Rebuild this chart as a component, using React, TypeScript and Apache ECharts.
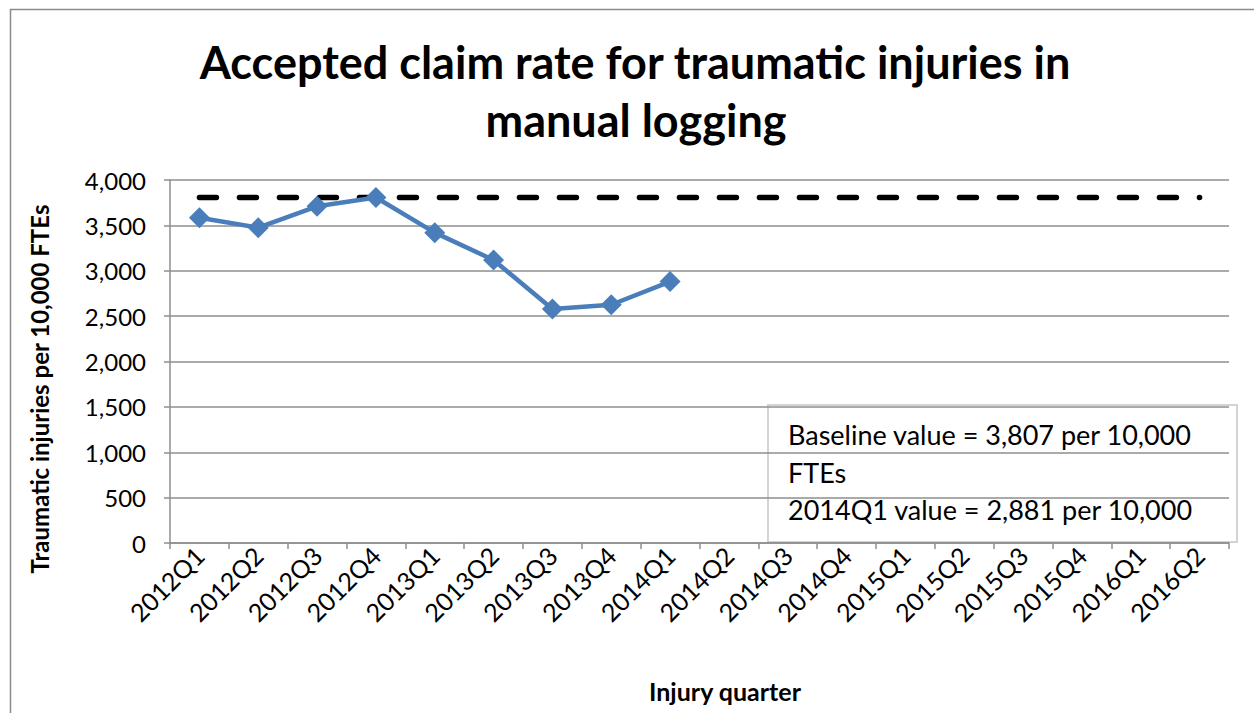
import React, { useEffect, useRef } from "react";
import * as echarts from "echarts";

const categories = [
  "2012Q1", "2012Q2", "2012Q3", "2012Q4", "2013Q1", "2013Q2", "2013Q3", "2013Q4", "2014Q1",
  "2014Q2", "2014Q3", "2014Q4", "2015Q1", "2015Q2", "2015Q3", "2015Q4", "2016Q1", "2016Q2",
];
const claimRate = [3585, 3475, 3710, 3807, 3420, 3118, 2578, 2625, 2881];
const baselineValue = 3807;
const yTicks = { min: 0, max: 4000, interval: 500 };
const titleLines = ["Accepted claim rate for traumatic injuries in", "manual logging"];
const yAxisTitle = "Traumatic injuries per 10,000 FTEs";
const xAxisTitle = "Injury quarter";
const noteLines = ["Baseline value = 3,807 per 10,000", "FTEs", "2014Q1 value = 2,881 per 10,000"];

const FONT = "Lato, 'Liberation Sans', sans-serif";

export default function App() {
  const ref = useRef<HTMLDivElement>(null);
  useEffect(() => {
    if (!ref.current) return;
    const chart = echarts.init(ref.current, null, { renderer: "svg" });
    const baseline = categories.map(() => baselineValue);
    chart.setOption({
      animation: false,
      backgroundColor: "#ffffff",
      textStyle: { fontFamily: FONT },
      grid: { left: 170, right: 25, top: 180, bottom: 170, containLabel: false },
      xAxis: {
        type: "category",
        data: categories,
        boundaryGap: true,
        axisLine: { show: true, lineStyle: { color: "#8e8e8e", width: 1.5 } },
        axisTick: { show: true, interval: 0, length: 6, lineStyle: { color: "#8e8e8e", width: 1.5 } },
        axisLabel: {
          interval: 0,
          rotate: 45,
          color: "#000",
          fontSize: 25,
          fontFamily: FONT,
          margin: 8,
        },
        splitLine: { show: false },
      },
      yAxis: {
        type: "value",
        min: yTicks.min,
        max: yTicks.max,
        interval: yTicks.interval,
        axisLine: { show: true, lineStyle: { color: "#8e8e8e", width: 1.5 } },
        axisTick: { show: true, length: 6, lineStyle: { color: "#8e8e8e", width: 1.5 } },
        axisLabel: {
          color: "#000",
          fontSize: 24,
          fontFamily: FONT,
          margin: 24,
          formatter: (v: number) => v.toLocaleString("en-US"),
        },
        splitLine: { show: true, lineStyle: { color: "#8e8e8e", width: 1.5 } },
      },
      series: [
        {
          name: "Baseline",
          type: "line",
          data: baseline,
          symbol: "none",
          lineStyle: { color: "#000", width: 5.5, type: [17, 23], cap: "round" },
          z: 2,
        },
        {
          name: "Accepted claim rate",
          type: "line",
          data: claimRate,
          symbol: "diamond",
          symbolSize: 21,
          itemStyle: { color: "#4A7EBB" },
          lineStyle: { color: "#4A7EBB", width: 4.5 },
          z: 3,
        },
      ],
      graphic: [
        {
          type: "rect",
          shape: { x: 10.5, y: 9.5, width: 1400, height: 900 },
          style: { fill: "none", stroke: "#8a8a8a", lineWidth: 1.5 },
          silent: true,
          z: 0,
        },
        {
          type: "text",
          x: 635,
          y: 62,
          style: {
            text: titleLines[0],
            fill: "#000",
            font: `bold 45px ${FONT}`,
            textAlign: "center",
            textVerticalAlign: "middle",
          },
        },
        {
          type: "text",
          x: 636,
          y: 120,
          style: {
            text: titleLines[1],
            fill: "#000",
            font: `bold 45px ${FONT}`,
            textAlign: "center",
            textVerticalAlign: "middle",
          },
        },
        {
          type: "text",
          x: 39,
          y: 389,
          rotation: Math.PI / 2,
          style: {
            text: yAxisTitle,
            fill: "#000",
            font: `bold 24px ${FONT}`,
            textAlign: "center",
            textVerticalAlign: "middle",
          },
        },
        {
          type: "text",
          x: 725,
          y: 691,
          style: {
            text: xAxisTitle,
            fill: "#000",
            font: `bold 25px ${FONT}`,
            textAlign: "center",
            textVerticalAlign: "middle",
          },
        },
        {
          type: "group",
          z: 10,
          children: [
            {
              type: "rect",
              shape: { x: 768, y: 405, width: 469, height: 137 },
              style: { fill: "#fff", stroke: "#d4d4d4", lineWidth: 2 },
            },
            {
              type: "text",
              x: 788,
              y: 416,
              style: {
                text: noteLines.join("\n"),
                fill: "#000",
                font: `27px ${FONT}`,
                lineHeight: 37.5,
                textVerticalAlign: "top",
              },
            },
          ],
        },
      ],
    });
    return () => chart.dispose();
  }, []);
  return (
    <div
      ref={ref}
      style={{ position: "fixed", left: 0, top: 0, width: 1254, height: 713 }}
    />
  );
}
